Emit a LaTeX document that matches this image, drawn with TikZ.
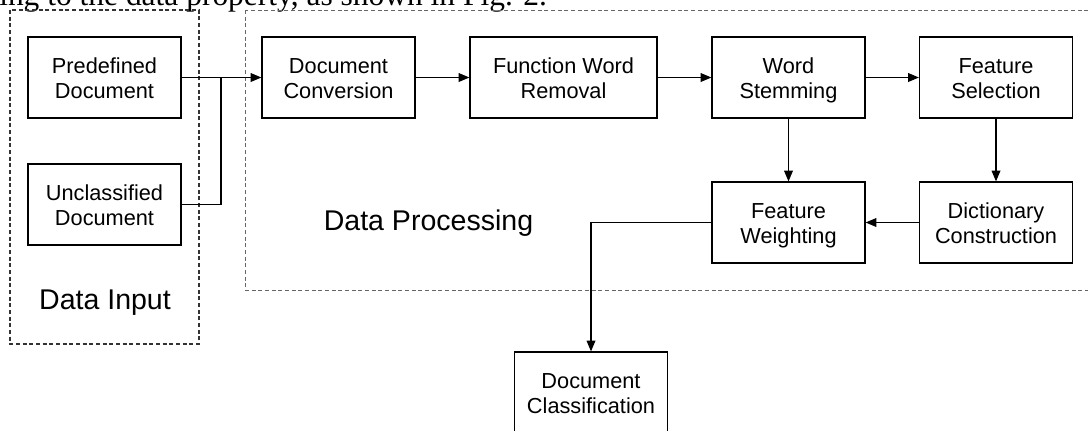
\documentclass[tikz,border=0pt]{standalone}
\usepackage{fontspec}
\setmainfont{Liberation Sans}
\newfontfamily\serifnote{Liberation Serif}
\usetikzlibrary{arrows.meta}
\newcommand\twolines[2]{\rule{0pt}{27pt}#1\\#2\rule[-15pt]{0pt}{15pt}}
\tikzset{
  box/.style={draw, line width=0.9pt, minimum width=114.75pt, minimum height=60.75pt,
    align=center, inner sep=0pt,
    font=\fontsize{16.3}{18.75}\selectfont},
  region/.style={draw, dash pattern=on 3pt off 2pt},
  flow/.style={line width=0.9pt, -{Triangle[length=8pt,width=6.5pt]}},
  plain/.style={line width=0.9pt},
  biglabel/.style={font=\fontsize{21.4}{24}\selectfont, inner sep=0pt}
}
\begin{document}
\begin{tikzpicture}[x=0.75pt, y=-0.75pt]
\useasboundingbox (0,0) rectangle (1088,430);
\clip (0,0) rectangle (1088,430);
\fill[white] (0,0) rectangle (1088,430);

% cropped caption line (cut off at the top, as in the reference)
\node[anchor=base west, inner sep=0pt, font=\serifnote\fontsize{23.6}{26}\selectfont] (cap) at (-1,5) {ing to the data property, as shown in Fig. 2.};

% dashed regions
\draw[region, line width=0.8pt, black!80] (10,10) rectangle (199,344);
\draw[region, line width=0.65pt, black!60] (245,10) rectangle (1100,290);
\node[biglabel] (lin) at (105,303) {Data Input};
\node[biglabel] (lproc) at (428.5,223) {Data Processing};

% boxes
\node[box] (pre) at (104.5,77.5) {\twolines{Predefined}{Document}};
\node[box] (unc) at (104.5,204.5) {\twolines{Unclassified}{Document}};
\node[box] (conv) at (338.5,77.5) {\twolines{Document}{Conversion}};
\node[box, minimum width=140.25pt] (fwr) at (563.5,77.5) {\twolines{Function Word}{Removal}};
\node[box] (stem) at (788.5,77.5) {\twolines{Word}{Stemming}};
\node[box] (sel) at (996,77.5) {\twolines{Feature}{Selection}};
\node[box] (wgt) at (788.5,222.5) {\twolines{Feature}{Weighting}};
\node[box] (dict) at (996,222.5) {\twolines{Dictionary}{Construction}};
\node[box] (cls) at (591,392.5) {\twolines{Document}{Classification}};

\coordinate (jn) at (221,77.5);

% connectors
\draw[flow] (pre.east) -- (conv.west);
\draw[plain] (unc.east) -| (jn);
\draw[flow] (conv.east) -- (fwr.west);
\draw[flow] (fwr.east) -- (stem.west);
\draw[flow] (stem.east) -- (sel.west);
\draw[flow] (stem.south) -- (wgt.north);
\draw[flow] (sel.south) -- (dict.north);
\draw[flow] (dict.west) -- (wgt.east);
\draw[flow] (wgt.west) -| (cls.north);
\end{tikzpicture}
\end{document}
